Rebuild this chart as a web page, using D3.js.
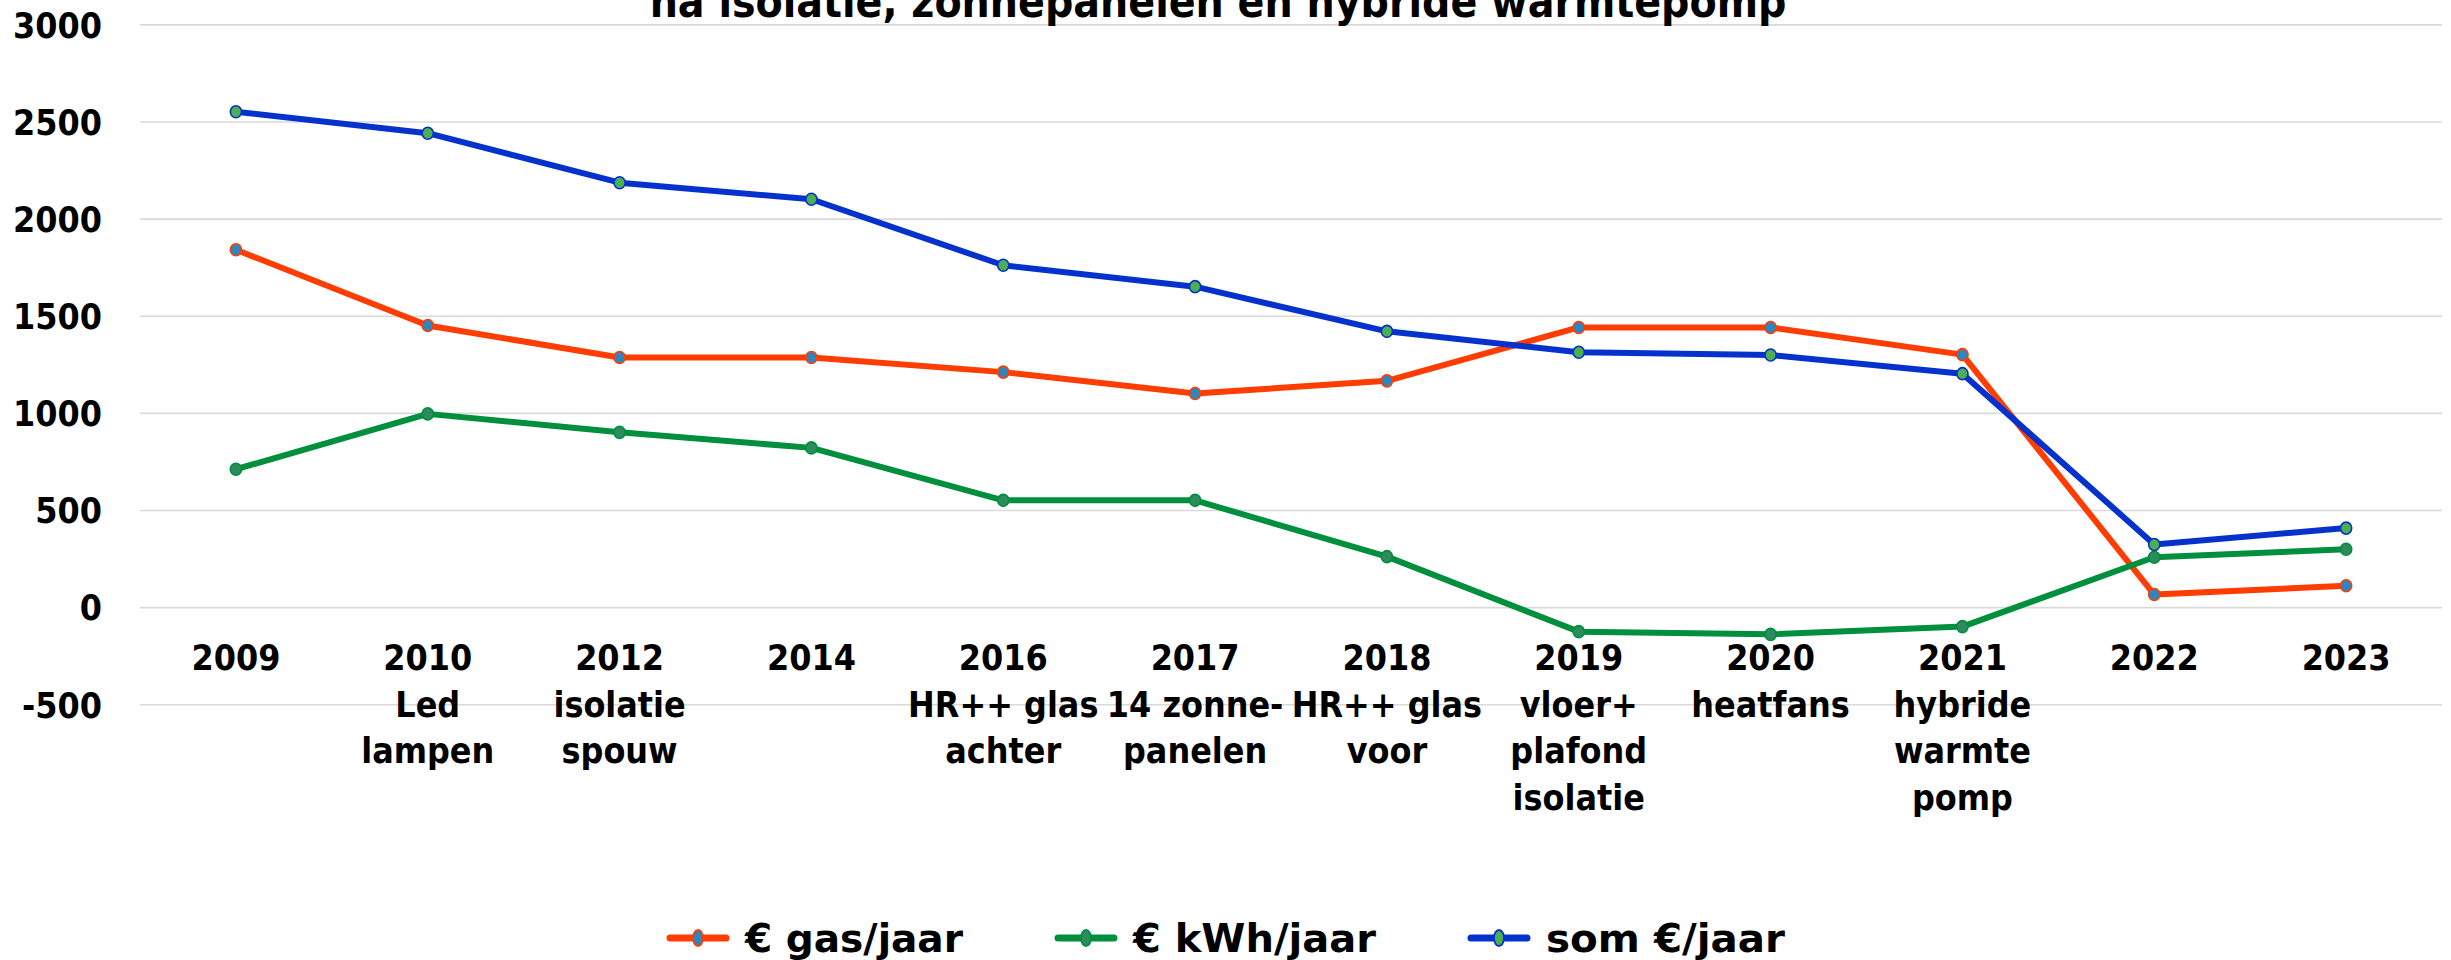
<!DOCTYPE html>
<html>
<head>
<meta charset="utf-8">
<script src="https://cdn.jsdelivr.net/npm/d3@7"></script>
<style>
  html, body { margin: 0; padding: 0; background: #fff; overflow: hidden; }
  svg text { font-family: 'DejaVu Sans Condensed', 'DejaVu Sans', sans-serif; font-stretch: condensed; font-weight: bold; fill: #000; }
</style>
</head>
<body>
<svg id="chart" width="2451" height="960"></svg>
<script>
// ---- data ----
const years = ["2009","2010","2012","2014","2016","2017","2018","2019","2020","2021","2022","2023"];
const measures = [
  [],
  ["Led","lampen"],
  ["isolatie","spouw"],
  [],
  ["HR++ glas","achter"],
  ["14 zonne-","panelen"],
  ["HR++ glas","voor"],
  ["vloer+","plafond","isolatie"],
  ["heatfans"],
  ["hybride","warmte","pomp"],
  [],
  []
];
const gasPerYear = [1840, 1450, 1285, 1285, 1210, 1100, 1165, 1440, 1440, 1300, 65, 110];
const kwhPerYear = [710, 995, 900, 820, 550, 550, 260, -126, -140, -100, 257, 298];
const somPerYear = [2550, 2440, 2185, 2100, 1760, 1650, 1420, 1312, 1298, 1202, 323, 407];
const yTicks = [-500, 0, 500, 1000, 1500, 2000, 2500, 3000];
const seriesNames = ["€ gas/jaar", "€ kWh/jaar", "som €/jaar"];
const titleText = "na isolatie, zonnepanelen en hybride warmtepomp";

// ---- styles ----
const seriesStyles = [
  { line: "#FF3D00", fill: "#2E86C1", stroke: "#FF3D00" },
  { line: "#008F3C", fill: "#2E8B5F", stroke: "#008F3C" },
  { line: "#0532CC", fill: "#4CAF50", stroke: "#0532CC" }
];

const svg = d3.select("#chart");
const plot = { left: 140, right: 2442 };

const x = d3.scalePoint().domain(years).range([plot.left, plot.right]).padding(0.5);
const y = d3.scaleLinear().domain([-500, 3000]).range([704.3, 24.4]);

// gridlines via axis
const yGrid = d3.axisLeft(y).tickValues(yTicks).tickSize(-(plot.right - plot.left)).tickFormat("");
const gGrid = svg.append("g").attr("transform", `translate(${plot.left},0)`).call(yGrid);
gGrid.select(".domain").remove();
gGrid.selectAll(".tick line").attr("stroke", "#D9D9D9").attr("stroke-width", 1.6);

// y labels
const yAxis = d3.axisLeft(y).tickValues(yTicks).tickSize(0).tickPadding(0).tickFormat(d => String(d));
const gY = svg.append("g").attr("transform", `translate(102,0)`).call(yAxis);
gY.select(".domain").remove();
gY.attr("font-family", null).attr("font-size", null);
gY.selectAll(".tick text")
  .attr("font-size", 35.5).attr("dy", null).attr("y", 12.8)
  .attr("text-anchor", "end");

// x labels
const gX = svg.append("g");
years.forEach((yr, i) => {
  const lines = [yr].concat(measures[i]);
  const t = gX.append("text")
    .attr("x", x(yr)).attr("y", 670)
    .attr("text-anchor", "middle")
    .attr("font-size", 35.5);
  lines.forEach((ln, j) => {
    t.append("tspan").attr("x", x(yr)).attr("y", 670 + j * 46.7).text(ln);
  });
});

// series
const allSeries = [gasPerYear, kwhPerYear, somPerYear];
const line = d3.line().x((d, i) => x(years[i])).y(d => y(d));
allSeries.forEach((vals, s) => {
  const st = seriesStyles[s];
  const g = svg.append("g");
  g.append("path").datum(vals)
    .attr("d", line)
    .attr("fill", "none")
    .attr("stroke", st.line)
    .attr("stroke-width", 6)
    .attr("stroke-linejoin", "round");
  g.selectAll("ellipse").data(vals).join("ellipse")
    .attr("cx", (d, i) => x(years[i]))
    .attr("cy", d => y(d))
    .attr("rx", 5.6)
    .attr("ry", 6.0)
    .attr("fill", st.fill)
    .attr("stroke", st.stroke)
    .attr("stroke-width", 1.6);
});

// title (partially cut off at the top, as in the reference)
const title = svg.append("text")
  .attr("x", 1218).attr("y", 16.5)
  .attr("text-anchor", "middle")
  .attr("font-size", 44)
  .text(titleText);
const tw = title.node().getComputedTextLength();
title.attr("font-size", 44 * 1137 / tw);

// legend
const legendX = [670, 1058, 1471];
const legendW = [218, 243, 239];
const gL = svg.append("g");
seriesNames.forEach((name, s) => {
  const st = seriesStyles[s];
  const lx = legendX[s];
  gL.append("line")
    .attr("x1", lx).attr("x2", lx + 56)
    .attr("y1", 938).attr("y2", 938)
    .attr("stroke", st.line).attr("stroke-width", 7).attr("stroke-linecap", "round");
  gL.append("ellipse")
    .attr("cx", lx + 28).attr("cy", 938)
    .attr("rx", 5).attr("ry", 8)
    .attr("fill", st.fill).attr("stroke", st.stroke).attr("stroke-width", 1.8);
  const t = gL.append("text")
    .attr("x", lx + 75).attr("y", 951.5)
    .attr("font-size", 39)
    .text(name);
  t.attr("textLength", legendW[s]).attr("lengthAdjust", "spacingAndGlyphs");
});
</script>
</body>
</html>
